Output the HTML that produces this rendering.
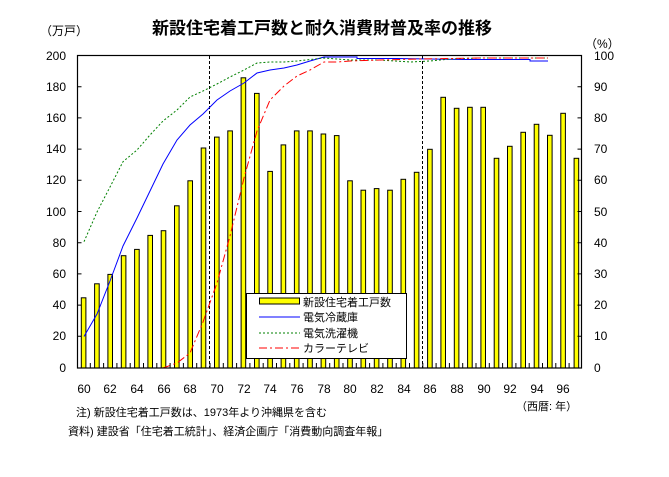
<!DOCTYPE html>
<html><head><meta charset="utf-8"><style>
body{margin:0;background:#fff}
text{font-family:"Liberation Sans","Noto Sans CJK JP",sans-serif;font-size:12px;fill:#000}
</style></head><body>
<svg width="669" height="472" xmlns="http://www.w3.org/2000/svg">
<text x="322" y="34" text-anchor="middle" style="font-size:17px;font-weight:bold">新設住宅着工戸数と耐久消費財普及率の推移</text>
<text x="40" y="35">（万戸）</text>
<text x="585" y="48">（%）</text>
<g fill="#ffff00" stroke="#000" stroke-width="1">
<rect x="81.3" y="297.8" width="4.6" height="70.2"/>
<rect x="94.6" y="283.8" width="4.6" height="84.2"/>
<rect x="107.9" y="274.4" width="4.6" height="93.6"/>
<rect x="121.3" y="255.7" width="4.6" height="112.3"/>
<rect x="134.6" y="249.4" width="4.6" height="118.6"/>
<rect x="147.9" y="235.4" width="4.6" height="132.6"/>
<rect x="161.2" y="230.7" width="4.6" height="137.3"/>
<rect x="174.5" y="205.8" width="4.6" height="162.2"/>
<rect x="187.9" y="180.8" width="4.6" height="187.2"/>
<rect x="201.2" y="148" width="4.6" height="220"/>
<rect x="214.5" y="137.1" width="4.6" height="230.9"/>
<rect x="227.8" y="130.9" width="4.6" height="237.1"/>
<rect x="241.1" y="77.8" width="4.6" height="290.2"/>
<rect x="254.5" y="93.4" width="4.6" height="274.6"/>
<rect x="267.8" y="171.4" width="4.6" height="196.6"/>
<rect x="281.1" y="144.9" width="4.6" height="223.1"/>
<rect x="294.4" y="130.9" width="4.6" height="237.1"/>
<rect x="307.7" y="130.9" width="4.6" height="237.1"/>
<rect x="321.1" y="134" width="4.6" height="234"/>
<rect x="334.4" y="135.6" width="4.6" height="232.4"/>
<rect x="347.7" y="180.8" width="4.6" height="187.2"/>
<rect x="361.0" y="190.2" width="4.6" height="177.8"/>
<rect x="374.3" y="188.6" width="4.6" height="179.4"/>
<rect x="387.7" y="190.2" width="4.6" height="177.8"/>
<rect x="401.0" y="179.3" width="4.6" height="188.7"/>
<rect x="414.3" y="172.3" width="4.6" height="195.7"/>
<rect x="427.6" y="149.3" width="4.6" height="218.7"/>
<rect x="440.9" y="97.3" width="4.6" height="270.7"/>
<rect x="454.3" y="108.3" width="4.6" height="259.7"/>
<rect x="467.6" y="107.3" width="4.6" height="260.7"/>
<rect x="480.9" y="107.3" width="4.6" height="260.7"/>
<rect x="494.2" y="158.3" width="4.6" height="209.7"/>
<rect x="507.5" y="146.3" width="4.6" height="221.7"/>
<rect x="520.9" y="132.3" width="4.6" height="235.7"/>
<rect x="534.2" y="124.3" width="4.6" height="243.7"/>
<rect x="547.5" y="135.3" width="4.6" height="232.7"/>
<rect x="560.8" y="113.3" width="4.6" height="254.7"/>
<rect x="574.1" y="158.3" width="4.6" height="209.7"/>
</g>
<g stroke="#000" stroke-width="1" stroke-dasharray="3,2">
<line x1="209.5" y1="56" x2="209.5" y2="368"/>
<line x1="422.5" y1="56" x2="422.5" y2="368"/>
</g>
<polyline fill="none" stroke="#0000ff" stroke-width="1" points="84,336.5 97,314 110,281 123,246 137,218 150,191 163,164 177,140 190,125 203,114 217,100 230,91 244,83 257,73 270,70 284,68 297,65 310,61 324,57 357,57 357,58.5 397,58.5 430,59 463,59.5 530,59.5 530,61 548,61"/>
<polyline fill="none" stroke="#008000" stroke-width="1" stroke-dasharray="2,2" points="84,241.7 97,212 110,187 123,161.7 137,150 150,135 163,121 177,110 190,97 203,91 217,84 230,77 244,70 257,63 270,62 284,62 297,61 324,58 350,60 380,60 410,62 430,61 450,59 480,58 548,58"/>
<polyline fill="none" stroke="#ff0000" stroke-width="1" stroke-dasharray="8,3,2,3" points="163,368 177,363 190,353 203,322 217,283 230,236 244,178 257,131 270,100 284,86 297,76 310,70 324,62 337,62 350,61 380,60 420,59 480,58 548,58"/>
<rect x="77.5" y="55.5" width="504" height="312.5" fill="none" stroke="#000" stroke-width="1.2"/>
<g stroke="#000" stroke-width="1">
<path d="M77.5 86.7h4M77.5 117.9h4M77.5 149.1h4M77.5 180.3h4M77.5 211.5h4M77.5 242.7h4M77.5 273.9h4M77.5 305.1h4M77.5 336.3h4"/>
<path d="M581.5 86.7h-4M581.5 117.9h-4M581.5 149.1h-4M581.5 180.3h-4M581.5 211.5h-4M581.5 242.7h-4M581.5 273.9h-4M581.5 305.1h-4M581.5 336.3h-4"/>
<path d="M90.3 368v-5M103.6 368v-5M116.9 368v-5M130.2 368v-5M143.5 368v-5M156.8 368v-5M170.1 368v-5M183.4 368v-5M196.7 368v-5M210 368v-5M223.3 368v-5M236.6 368v-5M249.9 368v-5M263.2 368v-5M276.5 368v-5M289.8 368v-5M303.1 368v-5M316.4 368v-5M329.7 368v-5M343 368v-5M356.3 368v-5M369.6 368v-5M382.9 368v-5M396.2 368v-5M409.5 368v-5M422.8 368v-5M436.1 368v-5M449.4 368v-5M462.7 368v-5M476 368v-5M489.3 368v-5M502.6 368v-5M515.9 368v-5M529.2 368v-5M542.5 368v-5M555.8 368v-5M569.1 368v-5"/>
</g>
<g text-anchor="end">
<text x="66" y="60">200</text><text x="66" y="91">180</text><text x="66" y="122">160</text><text x="66" y="153">140</text><text x="66" y="184">120</text><text x="66" y="216">100</text><text x="66" y="247">80</text><text x="66" y="278">60</text><text x="66" y="309">40</text><text x="66" y="340">20</text><text x="66" y="372">0</text>
</g>
<g>
<text x="594" y="60">100</text><text x="594" y="91">90</text><text x="594" y="122">80</text><text x="594" y="153">70</text><text x="594" y="184">60</text><text x="594" y="216">50</text><text x="594" y="247">40</text><text x="594" y="278">30</text><text x="594" y="309">20</text><text x="594" y="340">10</text><text x="594" y="372">0</text>
</g>
<g text-anchor="middle">
<text x="84" y="393">60</text><text x="110" y="393">62</text><text x="137" y="393">64</text><text x="164" y="393">66</text><text x="190" y="393">68</text><text x="217" y="393">70</text><text x="244" y="393">72</text><text x="270" y="393">74</text><text x="297" y="393">76</text><text x="324" y="393">78</text><text x="350" y="393">80</text><text x="377" y="393">82</text><text x="404" y="393">84</text><text x="430" y="393">86</text><text x="457" y="393">88</text><text x="484" y="393">90</text><text x="510" y="393">92</text><text x="537" y="393">94</text><text x="563" y="393">96</text>
</g>
<text x="516" y="410" style="font-size:11px">（西暦: 年）</text>
<text x="76" y="416" style="font-size:11px">注) 新設住宅着工戸数は、1973年より沖縄県を含む</text>
<text x="68" y="435" style="font-size:11px">資料) 建設省「住宅着工統計」、経済企画庁「消費動向調査年報」</text>
<rect x="246.5" y="293.5" width="160" height="65" fill="#fff" stroke="#000" stroke-width="1"/>
<rect x="259.5" y="298" width="40" height="6" fill="#ffff00" stroke="#000"/>
<line x1="259" y1="317" x2="300" y2="317" stroke="#0000ff"/>
<line x1="259" y1="333" x2="300" y2="333" stroke="#008000" stroke-dasharray="2,2"/>
<line x1="259" y1="348" x2="300" y2="348" stroke="#ff0000" stroke-dasharray="8,3,2,3"/>
<text x="303" y="306" style="font-size:11px">新設住宅着工戸数</text>
<text x="303" y="321" style="font-size:11px">電気冷蔵庫</text>
<text x="303" y="337" style="font-size:11px">電気洗濯機</text>
<text x="303" y="352" style="font-size:11px">カラーテレビ</text>
</svg>
</body></html>
